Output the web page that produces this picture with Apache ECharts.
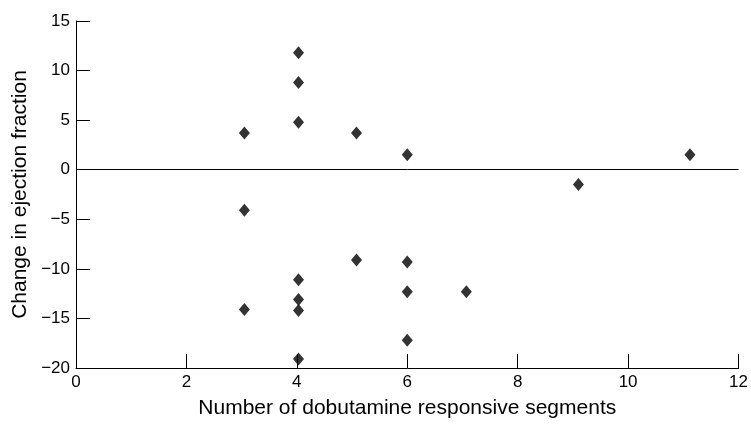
<!DOCTYPE html>
<html>
<head>
<meta charset="utf-8">
<script src="https://cdn.jsdelivr.net/npm/echarts@6/dist/echarts.min.js"></script>
<style>
  html, body { margin: 0; padding: 0; background: #fff; }
  #chart { width: 751px; height: 424px; }
</style>
</head>
<body>
<div id="chart"></div>
<script>
// segments vs change in EF
var segments = [3.05, 3.05, 3.05, 4.03, 4.03, 4.03, 4.03, 4.03, 4.03, 4.03, 5.08, 5.08, 6, 6, 6, 6, 7.07, 9.1, 11.12];
var efChange = [3.7, -4.1, -14.1, 11.8, 8.8, 4.8, -11.1, -13.1, -14.2, -19.1, 3.7, -9.1, 1.5, -9.3, -12.3, -17.2, -12.3, -1.5, 1.5];

var xTicks = [0, 2, 4, 6, 8, 10, 12];
var yTicks = [-20, -15, -10, -5, 0, 5, 10, 15];

var points = [];
for (var i = 0; i < segments.length; i++) {
  points.push([segments[i], efChange[i]]);
}

var font = 'Liberation Sans, Arial, sans-serif';
var chart = echarts.init(document.getElementById('chart'));

var option = {
  animation: false,
  grid: { left: 76, right: 11, top: 21, bottom: 52 },
  xAxis: {
    type: 'value',
    min: xTicks[0],
    max: xTicks[xTicks.length - 1],
    interval: 2,
    name: 'Number of dobutamine responsive segments',
    nameLocation: 'middle',
    nameGap: 30,
    nameTextStyle: { color: '#000', fontSize: 21, fontFamily: font },
    axisLine: { onZero: false, lineStyle: { color: '#000', width: 1 } },
    axisTick: { inside: true, length: 14, lineStyle: { color: '#000' } },
    axisLabel: { color: '#000', fontSize: 17, fontFamily: font, margin: 6 },
    splitLine: { show: false }
  },
  yAxis: {
    type: 'value',
    min: yTicks[0],
    max: yTicks[yTicks.length - 1],
    interval: 5,
    name: 'Change in ejection fraction',
    nameLocation: 'middle',
    nameGap: 43,
    nameTextStyle: { color: '#000', fontSize: 21, fontFamily: font },
    axisLine: { show: true, onZero: false, lineStyle: { color: '#000', width: 1 } },
    axisTick: { show: true, inside: true, length: 14, lineStyle: { color: '#000' } },
    axisLabel: {
      color: '#000', fontSize: 17, fontFamily: font, margin: 6,
      formatter: function (v) { return v < 0 ? '\u2212' + Math.abs(v) : String(v); }
    },
    splitLine: { show: false }
  },
  series: [
    {
      type: 'scatter',
      data: points,
      symbol: 'diamond',
      symbolSize: [11, 13],
      itemStyle: { color: '#000' },
      markLine: {
        silent: true,
        symbol: 'none',
        label: { show: false },
        lineStyle: { color: '#000', width: 1, type: 'solid' },
        data: [{ yAxis: 0 }]
      }
    }
  ]
};

chart.setOption(option);
</script>
</body>
</html>
